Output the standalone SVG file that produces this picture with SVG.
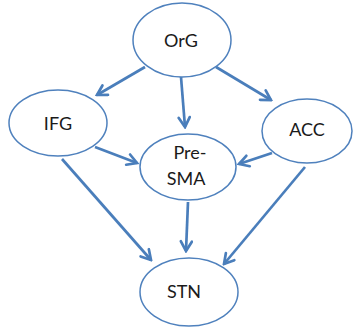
<svg xmlns="http://www.w3.org/2000/svg" width="355" height="327" viewBox="0 0 355 327">
<style>
.node ellipse{fill:#fff;stroke:#4f81bd;stroke-width:1.5}
.node text{font-family:Lato,"Open Sans",sans-serif;font-size:18px;fill:#1a1a1a;text-anchor:middle}
.edge{stroke:#4a7ebb;stroke-width:2.7;fill:none;marker-end:url(#arr)}
</style>
<defs>
<marker id="arr" viewBox="0 0 14 14" refX="12" refY="7" markerWidth="14" markerHeight="14" markerUnits="userSpaceOnUse" orient="auto">
<path d="M2.5,1.5 L12,7 L2.5,12.5" fill="none" stroke="#4a7ebb" stroke-width="2.7" stroke-linecap="round" stroke-linejoin="miter"/>
</marker>
</defs>
<rect width="355" height="327" fill="#fff"/>
<g id="connectors">
<line class="edge" x1="145" y1="67" x2="97" y2="95"/>
<line class="edge" x1="181" y1="77" x2="185" y2="127"/>
<line class="edge" x1="216" y1="67" x2="271" y2="100"/>
<line class="edge" x1="95" y1="147" x2="137" y2="163"/>
<line class="edge" x1="272" y1="153" x2="239" y2="164"/>
<line class="edge" x1="62" y1="159" x2="151" y2="260"/>
<line class="edge" x1="188" y1="202" x2="186" y2="251"/>
<line class="edge" x1="305" y1="167" x2="224" y2="264"/>
</g>
<g id="OrG" class="node"><ellipse cx="182" cy="40" rx="49" ry="37"/><text x="181" y="47">OrG</text></g>
<g id="IFG" class="node"><ellipse cx="58" cy="123" rx="49" ry="33"/><text x="58" y="130">IFG</text></g>
<g id="ACC" class="node"><ellipse cx="307" cy="131" rx="45" ry="32"/><text x="307" y="136">ACC</text></g>
<g id="PreSMA" class="node"><ellipse cx="188" cy="167" rx="48" ry="33"/><text x="190" y="159">Pre-</text><text x="186" y="185">SMA</text></g>
<g id="STN" class="node"><ellipse cx="189" cy="292" rx="49" ry="34"/><text x="184" y="298">STN</text></g>
</svg>
